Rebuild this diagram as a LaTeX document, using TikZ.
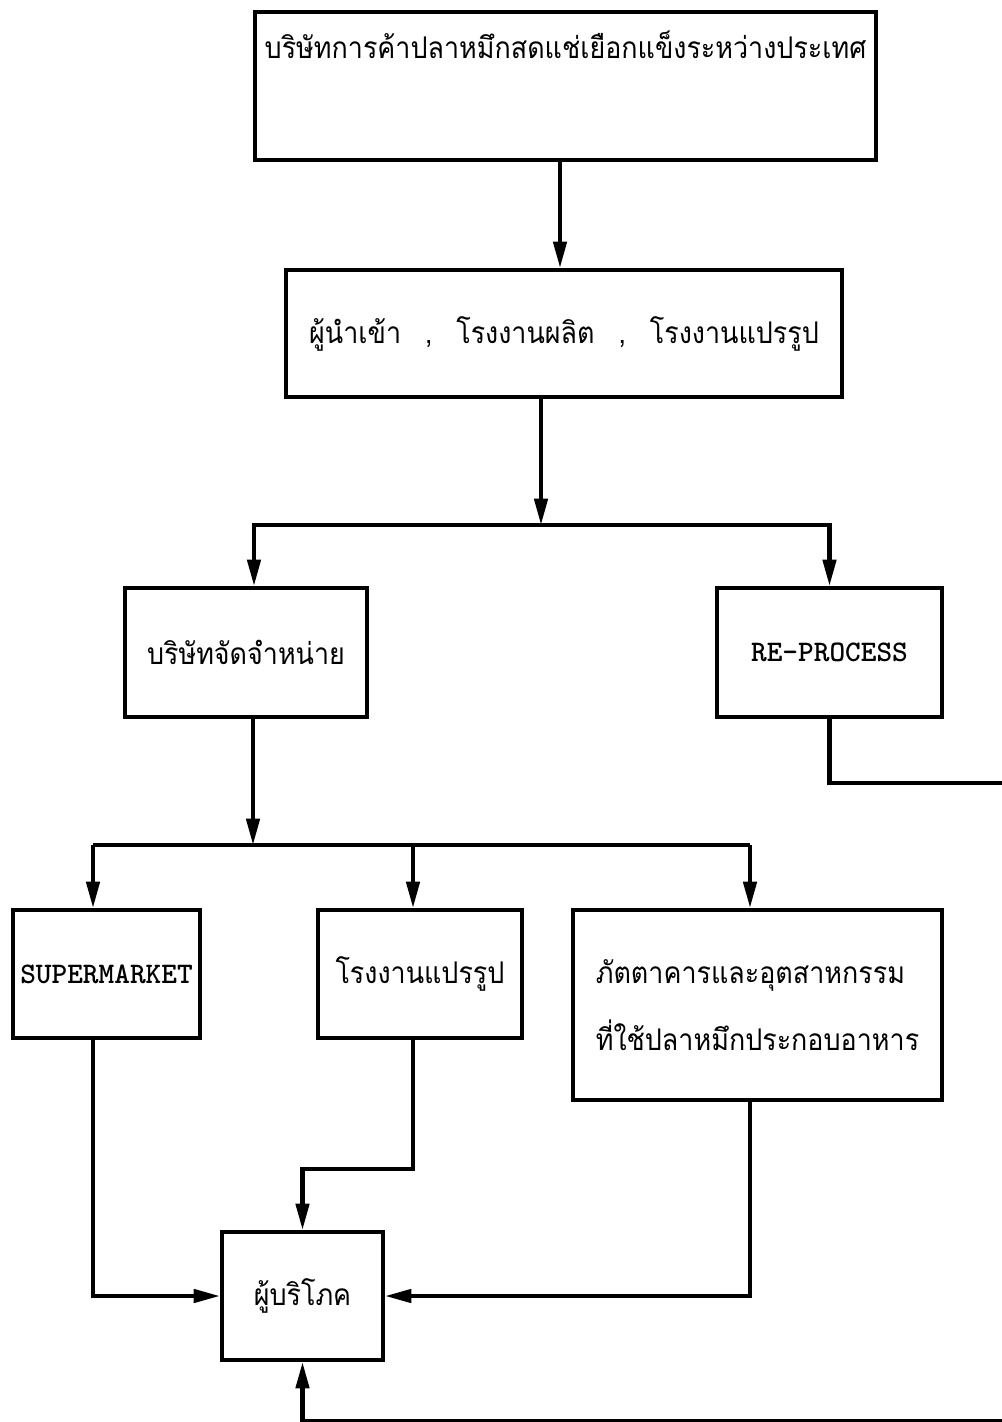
\documentclass[tikz,border=0pt]{standalone}
\usepackage{fontspec}
\setmainfont{Liberation Serif}
\newfontfamily\thaifont[Script=Thai,FakeStretch=0.9]{Loma}
\usetikzlibrary{arrows.meta}

\tikzset{
  box/.style={draw, line width=2.3pt, inner sep=0pt, align=center,
    font=\thaifont\fontsize{17}{38}\selectfont},
  latin/.style={font=\ttfamily\bfseries\fontsize{17}{20}\selectfont},
  flow/.style={line width=2.3pt, -{Triangle[length=15pt,width=7.5pt]}},
  link/.style={line width=2.3pt}
}

\begin{document}
\begin{tikzpicture}[x=0.02cm, y=-0.02cm]
\useasboundingbox (0,0) rectangle (1001,1422);

\node[box, minimum width=12.42cm, text height=0.92cm, text depth=2.04cm] (firm) at (565.5,86)
  {บริษัทการค้าปลาหมึกสดแช่เยือกแข็งระหว่างประเทศ};
\node[box, minimum width=11.12cm, minimum height=2.54cm] (import) at (564,333.5)
  {ผู้นำเข้า\hspace{0.8em},\hspace{0.8em}โรงงานผลิต\hspace{0.8em},\hspace{0.8em}โรงงานแปรรูป};
\node[box, minimum width=4.84cm, minimum height=2.58cm] (dist) at (246,652.5) {บริษัทจัดจำหน่าย};
\node[box, latin, minimum width=4.5cm, minimum height=2.58cm] (reproc) at (829.5,652.5) {RE-PROCESS};
\node[box, latin, minimum width=3.74cm, minimum height=2.56cm] (supmkt) at (106.5,974) {SUPERMARKET};
\node[box, minimum width=4.08cm, minimum height=2.56cm] (plant) at (420,974) {โรงงานแปรรูป};
\node[box, align=left, minimum width=7.38cm, minimum height=3.8cm] (rest) at (757.5,1005)
  {ภัตตาคารและอุตสาหกรรม\\ที่ใช้ปลาหมึกประกอบอาหาร};
\node[box, minimum width=3.22cm, minimum height=2.56cm] (consumer) at (302.5,1296) {ผู้บริโภค};

% branch points
\coordinate (split1) at (541,525);
\coordinate (split2) at (253,845);
\coordinate (b2l) at (93,845);
\coordinate (b2m) at (413,845);
\coordinate (b2r) at (750,845);
\coordinate (loopR) at (1030,783);
\coordinate (loopB) at (1030,1421);

\draw[flow] (firm.south -| 560,0) -- (import.north -| 560,0);
\draw[flow] (import.south -| split1) -- (split1);
\draw[flow] (split1) -| (dist.north -| 254,0);
\draw[flow] (split1) -| (reproc);
\draw[flow] (dist.south -| split2) -- (split2);
\draw[link] (b2l) -- (b2r);
\draw[flow] (b2l) -- (b2l |- supmkt.north);
\draw[flow] (b2m) -- (b2m |- plant.north);
\draw[flow] (b2r) -- (b2r |- rest.north);

\draw[flow] (supmkt.south -| b2l) |- (consumer);
\draw[flow] (plant.south -| b2m) -- ++(0,129) -| (consumer);
\draw[flow] (rest.south -| b2r) |- (consumer);
\draw[flow] (reproc.south) |- (loopR) -- (loopB) -| (consumer);
\end{tikzpicture}
\end{document}
